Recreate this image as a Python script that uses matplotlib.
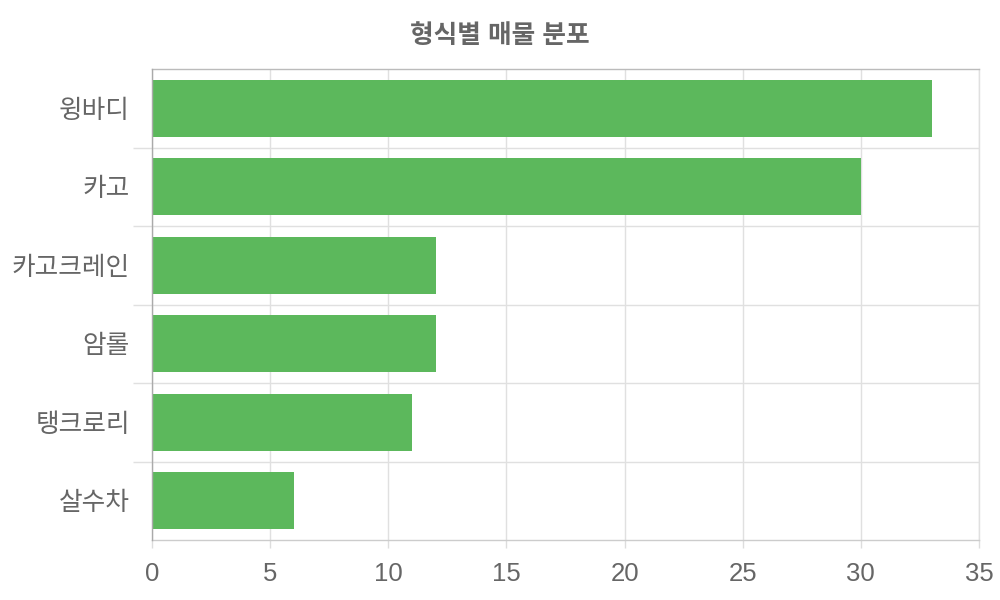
import matplotlib
matplotlib.use('Agg')
import matplotlib.pyplot as plt
import numpy as np

plt.rcParams['font.family'] = ['Liberation Sans', 'Noto Sans CJK KR', 'DejaVu Sans']

# 데이터
categories = ['윙바디', '카고', '카고크레인', '암롤', '탱크로리', '살수차']
counts = [33, 30, 12, 12, 11, 6]
title = '형식별 매물 분포'

bar_color = '#5cb85c'
text_color = '#666666'

fig = plt.figure(figsize=(10, 6), dpi=100)
ax = fig.add_axes([0.152, 0.10, 0.827, 0.785])

y = np.arange(len(categories))
ax.barh(y, counts, height=0.72, color=bar_color, zorder=3)

ax.set_xlim(0, 35)
ax.set_ylim(len(categories) - 0.5, -0.5)

# 축 눈금
ax.set_xticks(np.arange(0, 36, 5))
ax.set_yticks(y)
ax.set_yticklabels(categories)
ax.set_yticks(np.arange(0.5, len(categories) - 0.5, 1), minor=True)

ax.tick_params(axis='x', length=6, width=1, color='#dddddd', pad=10,
               labelsize=18.5, labelcolor=text_color)
ax.tick_params(axis='y', which='major', length=0, pad=16,
               labelsize=18.5, labelcolor=text_color)
ax.tick_params(axis='y', which='minor', length=14, width=1, color='#e0e0e0')

# 그리드
ax.grid(axis='x', which='major', color='#e0e0e0', linewidth=1, zorder=0)
ax.grid(axis='y', which='minor', color='#e0e0e0', linewidth=1, zorder=0)

for side in ['top', 'right', 'left', 'bottom']:
    ax.spines[side].set_linewidth(1)
ax.spines['top'].set_color('#bbbbbb')
ax.spines['right'].set_color('#e0e0e0')
ax.spines['left'].set_color('#aaaaaa')
ax.spines['bottom'].set_color('#cccccc')
ax.spines['left'].set_zorder(4)

fig.text(0.5, 0.94, title, ha='center', va='center', fontsize=18.5,
         fontweight='bold', color=text_color)

fig.savefig('out.png', dpi=100)
plt.close(fig)
